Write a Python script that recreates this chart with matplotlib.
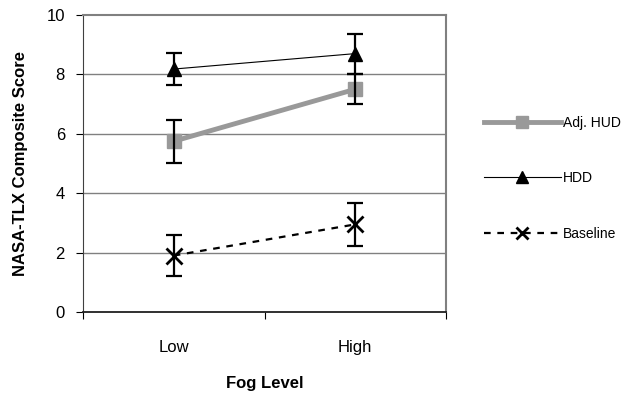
import matplotlib
matplotlib.use("Agg")
from matplotlib import pyplot as plt

plt.rcParams['font.family'] = ['Liberation Sans', 'DejaVu Sans']

# data
fog_levels = ["Low", "High"]
adj_hud = [5.75, 7.5]
adj_hud_err = [0.72, 0.5]
hdd = [8.18, 8.7]
hdd_err = [0.54, 0.67]
baseline = [1.9, 2.95]
baseline_err = [0.7, 0.72]

fig = plt.figure(figsize=(6.29, 4.0), dpi=100)
ax = fig.add_axes([83/629, 1 - 312/400, 363/629, 297/400])

x = [0.5, 1.5]

# horizontal gridlines
for y in [2, 4, 6, 8]:
    ax.axhline(y, color="#808080", lw=1.0, zorder=0)

err_kw = dict(fmt="none", ecolor="black", elinewidth=1.6, capsize=6, capthick=1.6, zorder=4)

ax.plot(x, adj_hud, color="#999999", lw=3.5, marker="s", ms=10, mec="#999999",
        label="Adj. HUD", zorder=2)
ax.plot(x, hdd, color="black", lw=0.8, marker="^", ms=10, label="HDD", zorder=3)
ax.plot(x, baseline, color="black", lw=1.6, ls=(0, (3, 3)), marker="x", ms=11, mew=2,
        label="Baseline", zorder=3)

ax.errorbar(x, adj_hud, yerr=adj_hud_err, **err_kw)
ax.errorbar(x, hdd, yerr=hdd_err, **err_kw)
ax.errorbar(x, baseline, yerr=baseline_err, **err_kw)

ax.set_xlim(0, 2)
ax.set_ylim(0, 10)
ax.set_xticks([0, 1, 2])
ax.set_xticklabels([])
ax.set_xticks(x, minor=True)
ax.set_xticklabels(fog_levels, minor=True, fontsize=12)
ax.tick_params(axis="x", which="minor", length=0, pad=20)
ax.tick_params(axis="x", which="major", direction="out", length=5, color="black")
ax.set_yticks([0, 2, 4, 6, 8, 10])
ax.tick_params(axis="y", direction="out", length=5, labelsize=12, pad=8)

for s in ["top", "right"]:
    ax.spines[s].set_color("#808080")
    ax.spines[s].set_linewidth(1.5)
ax.spines["left"].set_color("#404040")
ax.spines["bottom"].set_color("#202020")
ax.spines["bottom"].set_linewidth(1.3)

ax.set_xlabel("Fog Level", fontsize=12, fontweight="bold", labelpad=15)
ax.set_ylabel("NASA-TLX Composite Score", fontsize=12, fontweight="bold", labelpad=13)

fig.legend(loc="upper left", bbox_to_anchor=(478/629, 1 - 110/400), frameon=False,
           fontsize=10, handlelength=5.6, handletextpad=0.1, labelspacing=3.0,
           markerscale=0.8, borderaxespad=0)

fig.savefig("out.png", dpi=100)
